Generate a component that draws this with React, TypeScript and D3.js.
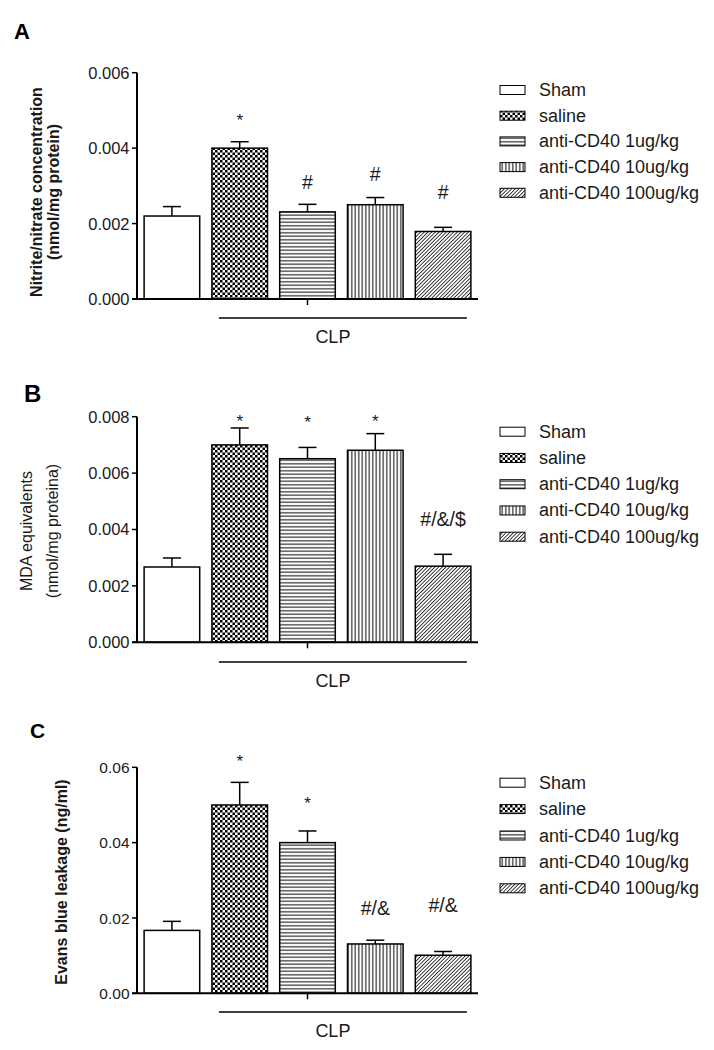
import React from "react";
import * as d3 from "d3";

// ---------- data ----------
const categories = ["Sham", "saline", "anti-CD40 1ug/kg", "anti-CD40 10ug/kg", "anti-CD40 100ug/kg"];
const patternIds = ["none", "checker", "hlines", "vlines", "diag"];

const nitriteMean = [0.0022, 0.004, 0.00231, 0.0025, 0.00179];
const nitriteSEM = [0.00025, 0.00017, 0.0002, 0.00019, 0.00011];
const nitriteMarks = ["", "*", "#", "#", "#"];
const nitriteMarkY = [0, 0.00459, 0.00292, 0.00314, 0.00266];
const nitriteTicks = [0, 0.002, 0.004, 0.006];

const mdaMean = [0.00267, 0.007, 0.00651, 0.00681, 0.0027];
const mdaSEM = [0.00032, 0.0006, 0.0004, 0.00059, 0.00042];
const mdaMarks = ["", "*", "*", "*", "#/&/$"];
const mdaMarkY = [0, 0.00763, 0.0076, 0.00763, 0.00413];
const mdaTicks = [0, 0.002, 0.004, 0.006, 0.008];

const evansMean = [0.0167, 0.05, 0.04, 0.0131, 0.0101];
const evansSEM = [0.0024, 0.006, 0.0031, 0.001, 0.001];
const evansMarks = ["", "*", "*", "#/&", "#/&"];
const evansMarkY = [0, 0.0601, 0.0489, 0.0209, 0.0216];
const evansTicks = [0, 0.02, 0.04, 0.06];

const groupLabel = "CLP";

// ---------- layout ----------
const FONT = "Liberation Sans, Arial, Helvetica, sans-serif";
const AX_X = 137;
const AX_RIGHT = 478;

const panels = [
  {
    letter: "A", letterX: 14, letterY: 39, letterSize: 22,
    mean: nitriteMean, sem: nitriteSEM, marks: nitriteMarks, markY: nitriteMarkY,
    ticks: nitriteTicks, fmt: ".3f", tickSize: 16.5,
    yZero: 299, yTop: 72.7,
    labels: ["Nitrite/nitrate concentration", "(nmol/mg protein)"], labelX: [41.7, 58.6], labelCY: 192, bold: true,
    clpY: 318, legendY: 90, legendStep: 25.7,
  },
  {
    letter: "B", letterX: 24, letterY: 402, letterSize: 24,
    mean: mdaMean, sem: mdaSEM, marks: mdaMarks, markY: mdaMarkY,
    ticks: mdaTicks, fmt: ".3f", tickSize: 16.5,
    yZero: 642.3, yTop: 416.7,
    labels: ["MDA equivalents", "(nmol/mg proteina)"], labelX: [31.6, 58.3], labelCY: 531, bold: false,
    clpY: 662, legendY: 431.7, legendStep: 26.25,
  },
  {
    letter: "C", letterX: 30, letterY: 738, letterSize: 21,
    mean: evansMean, sem: evansSEM, marks: evansMarks, markY: evansMarkY,
    ticks: evansTicks, fmt: ".2f", tickSize: 15.5,
    yZero: 993.3, yTop: 767.3,
    labels: ["Evans blue leakage (ng/ml)"], labelX: [66.5], labelCY: 882, bold: true,
    clpY: 1012, legendY: 782.7, legendStep: 26.4,
  },
];

const xScale = d3
  .scaleBand<string>()
  .domain(categories)
  .range([AX_X, AX_RIGHT])
  .paddingInner(0.18)
  .paddingOuter(0.105);

function fillFor(i: number) {
  return patternIds[i] === "none" ? "#fff" : `url(#${patternIds[i]})`;
}

function Panel({ p }: { p: (typeof panels)[number] }) {
  const y = d3.scaleLinear().domain([0, p.ticks[p.ticks.length - 1]]).range([p.yZero, p.yTop]);
  const bw = xScale.bandwidth();
  const fmt = d3.format(p.fmt);
  const clpX1 = (xScale(categories[1]) as number) + 7;
  const clpX2 = (xScale(categories[4]) as number) + bw - 4;
  const midTick = (xScale(categories[2]) as number) + bw / 2;
  return (
    <g>
      <text x={p.letterX} y={p.letterY} fontSize={p.letterSize} fontWeight="bold" fontFamily={FONT} fill="#000">
        {p.letter}
      </text>
      {/* y label */}
      {p.labels.map((l, i) => (
        <text
          key={i}
          transform={`translate(${p.labelX[i]},${p.labelCY}) rotate(-90)`}
          textAnchor="middle"
          fontSize={16}
          fontWeight={p.bold ? "bold" : "normal"}
          fontFamily={FONT}
          fill="#1a1a1a"
        >
          {l}
        </text>
      ))}
      {/* bars */}
      {categories.map((c, i) => {
        const x0 = xScale(c) as number;
        const cx = x0 + bw / 2;
        const top = y(p.mean[i]);
        const et = y(p.mean[i] + p.sem[i]);
        return (
          <g key={c}>
            <line x1={cx} x2={cx} y1={top} y2={et} stroke="#000" strokeWidth={1.5} />
            <line x1={cx - 9} x2={cx + 9} y1={et} y2={et} stroke="#000" strokeWidth={1.5} />
            <rect x={x0} y={top} width={bw} height={p.yZero - top} fill={fillFor(i)} stroke="#000" strokeWidth={1.5} />
            {p.marks[i] && (
              <text x={cx} y={y(p.markY[i])} textAnchor="middle" fontSize={p.marks[i] === "*" ? 17 : 19.5} fontFamily={FONT} fill="#1a1a1a">
                {p.marks[i]}
              </text>
            )}
          </g>
        );
      })}
      {/* axes */}
      <line x1={AX_X} x2={AX_X} y1={y(p.ticks[p.ticks.length - 1])} y2={p.yZero} stroke="#000" strokeWidth={2} />
      <line x1={AX_X - 5} x2={AX_RIGHT} y1={p.yZero} y2={p.yZero} stroke="#000" strokeWidth={2} />
      {p.ticks.map((t) => (
        <g key={t}>
          <line x1={AX_X - 5} x2={AX_X} y1={y(t)} y2={y(t)} stroke="#000" strokeWidth={1.5} />
          <text x={AX_X - 7.5} y={y(t)} dy="0.36em" textAnchor="end" fontSize={p.tickSize} fontFamily={FONT} fill="#1a1a1a">
            {fmt(t)}
          </text>
        </g>
      ))}
      <line x1={midTick} x2={midTick} y1={p.yZero} y2={p.yZero + 6} stroke="#000" strokeWidth={1.5} />
      {/* CLP group */}
      <line x1={clpX1} x2={clpX2} y1={p.clpY} y2={p.clpY} stroke="#000" strokeWidth={1.6} />
      <text x={(clpX1 + clpX2) / 2 - 10} y={p.clpY + 24.5} textAnchor="middle" fontSize={18} fontFamily={FONT} fill="#1a1a1a">
        {groupLabel}
      </text>
      {/* legend */}
      {categories.map((c, i) => {
        const cy = p.legendY + i * p.legendStep;
        return (
          <g key={"lg" + c}>
            <rect x={500} y={cy - 4.5} width={25} height={9} fill={fillFor(i)} stroke="#000" strokeWidth={1} />
            <text x={539} y={cy + 6} fontSize={18} fontFamily={FONT} fill="#1a1a1a">
              {c}
            </text>
          </g>
        );
      })}
    </g>
  );
}

export default function App() {
  return (
    <svg width={714} height={1050} style={{ position: "absolute", left: 0, top: 0, background: "#fff" }}>
      <defs>
        <pattern id="checker" width={5} height={5} patternUnits="userSpaceOnUse">
          <rect width={5} height={5} fill="#fff" />
          <rect x={0} y={0} width={2.5} height={2.5} fill="#000" />
          <rect x={2.5} y={2.5} width={2.5} height={2.5} fill="#000" />
        </pattern>
        <pattern id="hlines" width={10} height={3.5} patternUnits="userSpaceOnUse">
          <rect width={10} height={3.5} fill="#fff" />
          <line x1={0} x2={10} y1={1.75} y2={1.75} stroke="#000" strokeWidth={1} />
        </pattern>
        <pattern id="vlines" width={3.5} height={10} patternUnits="userSpaceOnUse">
          <rect width={3.5} height={10} fill="#fff" />
          <line x1={1.75} x2={1.75} y1={0} y2={10} stroke="#000" strokeWidth={1} />
        </pattern>
        <pattern id="diag" width={2.6} height={10} patternUnits="userSpaceOnUse" patternTransform="rotate(45)">
          <rect width={2.6} height={10} fill="#fff" />
          <line x1={1.3} x2={1.3} y1={0} y2={10} stroke="#222" strokeWidth={0.9} />
        </pattern>
      </defs>
      <rect width={714} height={1050} fill="#fff" />
      {panels.map((p) => (
        <Panel key={p.letter} p={p} />
      ))}
    </svg>
  );
}
